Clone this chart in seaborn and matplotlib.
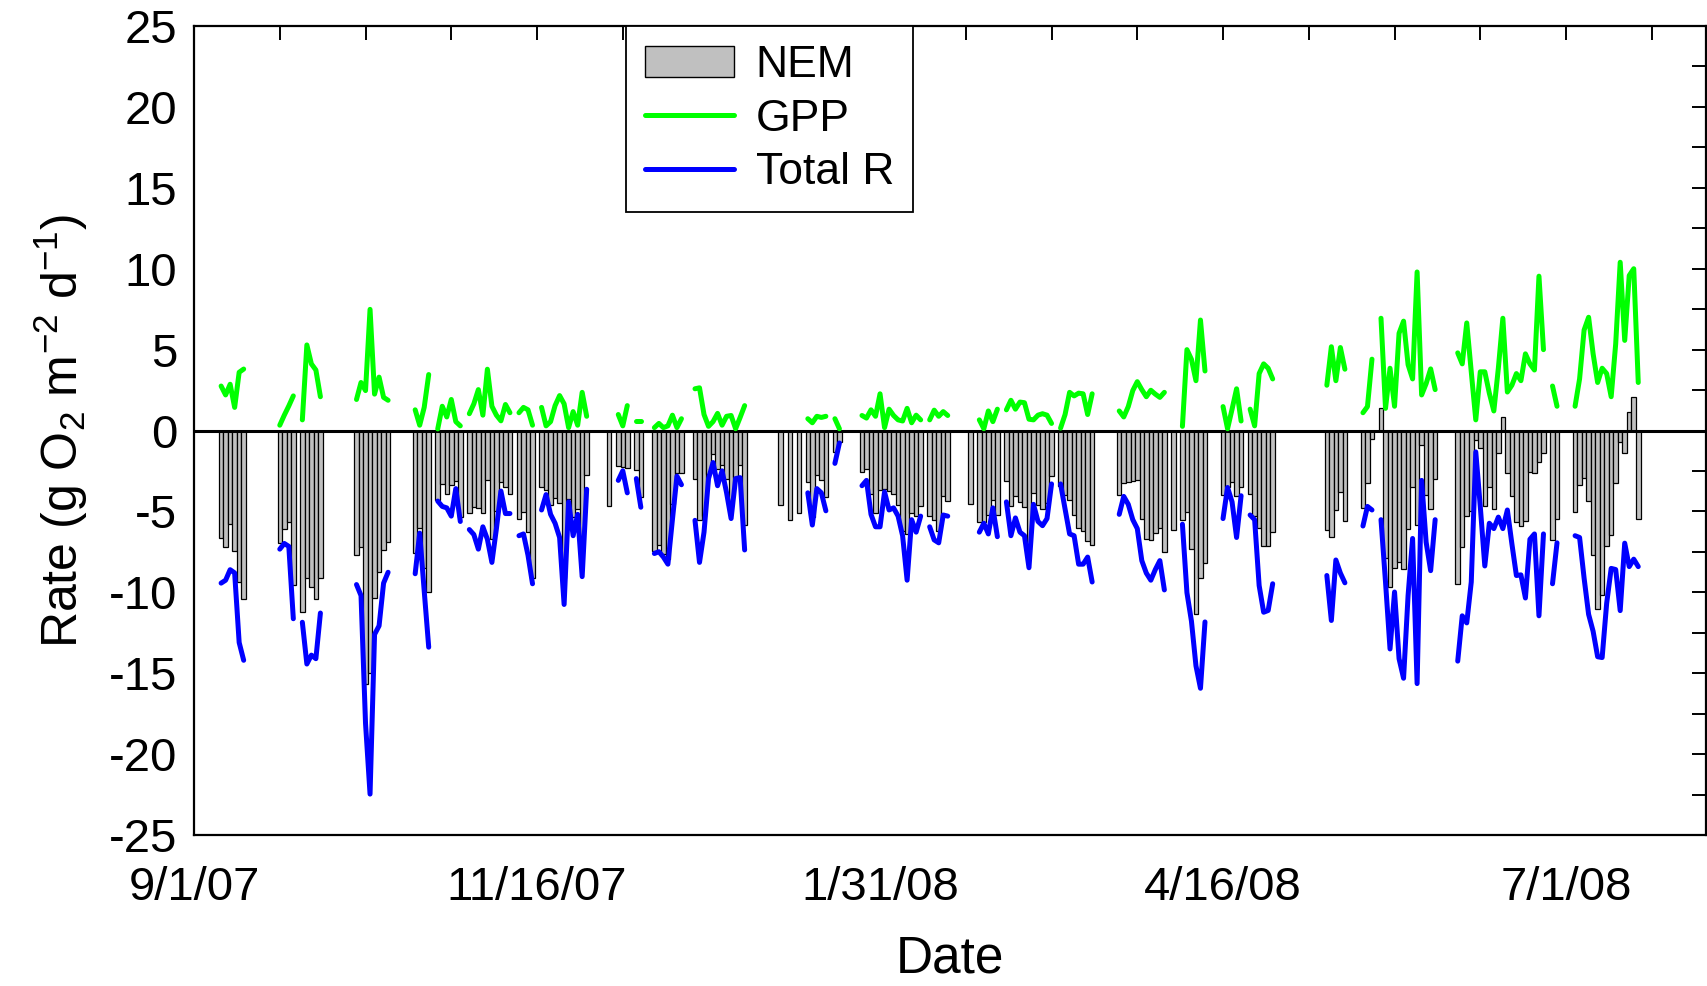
import numpy as np
import pandas as pd
import matplotlib
matplotlib.use("Agg")
import matplotlib.pyplot as plt
import matplotlib.dates as mdates
from matplotlib.patches import Patch
from matplotlib.lines import Line2D
from matplotlib.ticker import FixedLocator, MultipleLocator
import seaborn as sns

nan = np.nan
START = "2007-09-01"

# day offsets from 9/1/07 (only days with data)
DAY = [
    6, 7, 8, 9, 10, 11,
    19, 20, 21, 22, 24, 25, 26, 27, 28,
    36, 37, 38, 39, 40, 41, 42, 43,
    49, 50, 51, 52,
    54, 55, 56, 57, 58, 59,
    61, 62, 63, 64, 65, 66, 67, 68, 69, 70,
    72, 73, 74, 75,
    77, 78, 79, 80, 81, 82, 83, 84, 85, 86, 87,
    92,
    94, 95, 96,
    98, 99,
    102, 103, 104, 105, 106, 107, 108,
    111, 112, 113, 114, 115, 116, 117, 118, 119, 120, 121, 122,
    130, 132, 134,
    136, 137, 138, 139, 140,
    142, 143,
    148, 149, 150, 151, 152, 153, 154, 155, 156, 157, 158, 159, 160, 161,
    163, 164, 165, 166, 167,
    172,
    174, 175, 176, 177, 178,
    180, 181, 182, 183, 184, 185, 186, 187, 188, 189, 190,
    192, 193, 194, 195, 196, 197, 198, 199,
    205, 206, 207, 208, 209, 210, 211, 212, 213, 214, 215,
    217,
    219, 220, 221, 222, 223, 224,
    228, 229, 230, 231, 232,
    234, 235, 236, 237, 238, 239,
    251, 252, 253, 254, 255,
    259, 260, 261,
    263, 264, 265, 266, 267, 268, 269, 270, 271, 272, 273, 274, 275,
    280, 281, 282, 283, 284, 285, 286, 287, 288, 289, 290, 291, 292, 293, 294,
    295, 296, 297, 298, 299, 301, 302,
    306, 307, 308, 309, 310, 311, 312, 313, 314, 315, 316, 317, 318, 319, 320,
]

GPP = [
    2.75, 2.2, 2.86, 1.43, 3.6, 3.8,
    0.33, 0.95, 1.52, 2.14, 0.66, 5.29, 4.12, 3.74, 2.09,
    1.92, 2.97, 2.47, 7.49, 2.25, 3.3, 2.05, 1.87,
    1.28, 0.33, 1.43, 3.46,
    0.1, 1.5, 0.84, 1.92, 0.55, 0.29,
    1.04, 1.65, 2.53, 0.95, 3.79, 1.5, 0.95, 0.6, 1.61, 1.1,
    1.1, 1.43, 1.28, 0.33,
    1.43, 0.29, 0.55, 1.54, 2.16, 1.65, 0.18, 1.17, 0.33, 2.36, 0.88,
    nan,
    0.99, 0.29, 1.54,
    0.6, 0.6,
    0.18, 0.44, 0.18, 0.29, 0.95, 0.18, 0.73,
    2.58, 2.64, 0.99, 0.26, 0.55, 1.06, 0.33, 0.88, 0.93, 0.11, 0.81, 1.54,
    nan, nan, nan,
    0.73, 0.48, 0.88, 0.81, 0.88,
    0.73, 0.11,
    0.93, 0.77, 1.28, 0.88, 2.27, 0.18, 1.32, 0.93, 0.66, 0.59, 1.37, 0.48, 0.95, 0.66,
    0.66, 1.26, 0.88, 1.17, 0.93,
    nan,
    0.66, 0.11, 1.21, 0.55, 1.32,
    1.28, 1.87, 1.32, 1.76, 1.72, 0.7, 0.66, 0.95, 1.04, 0.95, 0.44,
    0.15, 0.99, 2.36, 2.14, 2.31, 2.27, 0.99, 2.27,
    1.21, 0.84, 1.48, 2.47, 3.02, 2.53, 2.09, 2.49, 2.25, 2.05, 2.36,
    nan,
    0.26, 5.0, 4.4, 3.08, 6.83, 3.68,
    1.48, 0.11, 1.32, 2.58, 0.59,
    1.32, 0.29, 3.52, 4.12, 3.85, 3.19,
    2.8, 5.18, 3.08, 5.13, 3.79,
    1.1, 1.48, 4.41,
    6.94, 1.37, 3.85, 1.5, 6.01, 6.76, 4.07, 3.19, 9.8, 2.2, 2.9, 3.81, 2.53,
    4.8, 4.12, 6.65, 3.63, 0.66, 3.63, 3.63, 2.31, 1.21, 3.85, 6.94, 2.38, 2.8, 3.52, 3.08,
    4.74, 4.12, 3.74, 9.54, 5.0, 2.75, 1.5,
    1.5, 3.19, 6.21, 7.0, 4.74, 2.97, 3.85, 3.52, 2.09, 5.35, 10.4, 5.57, 9.58, 10.0, 2.97,
]

TOTAL_R = [
    -9.43, -9.25, -8.6, -8.8, -13.1, -14.2,
    -7.33, -6.98, -7.16, -11.63, -11.85, -14.43, -13.88, -14.1, -11.28,
    -9.52, -10.2, -18.1, -22.47, -12.6, -12.07, -9.43, -8.76,
    -8.85, -6.34, -9.91, -13.39,
    -4.36, -4.69, -4.78, -5.29, -3.59, -5.62,
    -6.12, -6.43, -7.33, -5.95, -6.72, -8.15, -6.06, -3.74, -5.13, -5.13,
    -6.5, -6.39, -7.71, -9.47,
    -4.91, -3.96, -5.18, -5.73, -6.61, -10.75, -4.4, -6.5, -5.18, -9.03, -3.63,
    nan,
    -3.08, -2.49, -3.85,
    -2.97, -4.74,
    -7.6, -7.49, -7.82, -8.26, -5.5, -2.82, -3.35,
    -5.55, -8.15, -6.28, -2.97, -1.98, -3.41, -2.49, -3.85, -5.44, -2.97, -2.91, -7.38,
    nan, nan, nan,
    -3.85, -5.84, -3.59, -3.85, -4.96,
    -2.03, -0.77,
    -3.41, -3.08, -5.18, -5.95, -5.95, -3.79, -4.91, -4.78, -5.29, -6.5, -9.25, -5.51, -6.28, -5.29,
    -5.95, -6.76, -6.94, -5.22, -5.29,
    nan,
    -6.28, -5.73, -6.39, -4.78, -6.56,
    -4.41, -6.5, -5.4, -6.28, -6.5, -8.48, -4.56, -5.62, -5.88, -5.44, -3.3,
    -3.3, -4.85, -6.39, -6.5, -8.26, -8.26, -7.82, -9.36,
    -5.18, -4.07, -4.56, -5.51, -6.06, -8.04, -8.81, -9.25, -8.59, -8.04, -9.85,
    nan,
    -5.79, -10.02, -11.78, -14.54, -15.93, -11.83,
    -5.44, -3.52, -4.41, -6.61, -4.03,
    -5.22, -5.51, -9.58, -11.23, -11.12, -9.47,
    -8.96, -11.74, -8.0, -8.81, -9.41,
    -5.9, -4.69, -4.91,
    -5.51, -9.36, -13.5, -9.98, -14.1, -15.31, -10.2, -6.67, -15.64, -3.08, -6.9, -8.66, -5.51,
    -14.25, -11.45, -11.89, -9.36, -1.32, -4.7, -8.37, -5.73, -6.06, -5.35, -6.06, -4.91, -7.0,
    -8.96, -8.92, -10.35, -6.72, -6.39, -11.45, -6.39, -9.47, -6.94,
    -6.5, -6.61, -9.12, -11.36, -12.41, -13.98, -14.03, -10.68, -8.52, -8.59, -11.13, -6.96,
    -8.41, -7.95, -8.41,
]

NEM = [
    -6.67, -7.18, -5.79, -7.44, -9.36, -10.4,
    -6.98, -6.06, -5.66, -9.54, -11.23, -9.1, -9.69, -10.4, -9.14,
    -7.67, -7.18, -15.64, -14.98, -10.35, -8.77, -7.38, -6.89,
    -7.56, -6.01, -8.48, -9.96,
    -4.3, -3.3, -3.95, -3.37, -3.1, -5.33,
    -5.07, -4.74, -4.8, -5.07, -3.05, -6.7, -5.0, -3.19, -3.52, -3.95,
    -5.46, -5.02, -6.3, -9.1,
    -3.48, -3.67, -4.63, -4.19, -4.45, -9.1, -4.22, -5.33, -4.85, -6.67, -2.75,
    -4.69,
    -2.2, -2.25, -2.31,
    -2.42, -4.12,
    -7.42, -7.05, -7.64, -7.97, -4.55, -2.64, -2.62,
    -2.97, -5.51, -5.29, -2.71, -1.43, -2.35, -2.16, -2.97, -4.51, -2.86, -2.1, -5.84,
    -4.63, -5.51, -5.11,
    -3.2, -5.36, -2.75, -3.04, -4.1,
    -1.33, -0.68,
    -2.55, -2.35, -3.95, -5.08, -3.7, -3.6, -3.75, -3.9, -4.6, -6.2, -6.4, -5.1, -5.3, -4.65,
    -5.31, -5.55, -6.2, -4.06, -4.38,
    -4.56,
    -5.64, -5.64, -5.2, -4.28, -5.23,
    -3.13, -4.65, -4.04, -4.4, -4.72, -7.1, -3.85, -4.6, -4.85, -4.5, -2.84,
    -3.4, -4.0, -4.3, -5.2, -6.0, -6.2, -6.83, -7.1,
    -4.0, -3.26, -3.15, -3.1, -3.06, -5.48, -6.72, -6.76, -6.32, -6.0, -7.49,
    -6.12,
    -5.55, -5.02, -7.3, -11.35, -9.1, -8.17,
    -3.98, -3.5, -3.2, -4.05, -3.46,
    -3.95, -5.3, -6.03, -7.11, -7.15, -6.3,
    -6.17, -6.6, -4.94, -3.8, -5.62,
    -4.79, -3.23, -0.5,
    1.38, -7.9, -9.64, -8.48, -8.1, -8.55, -6.1, -3.5, -5.84, -0.88, -4.0, -4.85, -3.0,
    -9.47, -7.2, -5.29, -5.0, -0.59, -1.06, -4.69, -3.52, -4.85, -1.39, 0.81, -2.64, -4.07,
    -5.66, -5.88, -5.62, -2.58, -2.64, -1.94, -1.37, -6.76, -5.46,
    -5.02, -3.35, -2.91, -4.36, -7.67, -11.01, -10.18, -7.16, -6.43, -3.24, -0.73, -1.39,
    1.17, 2.05, -5.44,
]

MAJOR_TICK_DAYS = [0, 76, 152, 228, 304]
MINOR_STEP_DAYS = 19
X_END_DAYS = 335
Y_TICKS = [-25, -20, -15, -10, -5, 0, 5, 10, 15, 20, 25]

n = len(DAY)
if not (len(GPP) == n and len(TOTAL_R) == n and len(NEM) == n):
    raise SystemExit(f"length mismatch {n} {len(GPP)} {len(TOTAL_R)} {len(NEM)}")

start = pd.Timestamp(START)
df = pd.DataFrame({"day": DAY, "GPP": GPP, "R": TOTAL_R, "NEM": NEM})
df["date"] = start + pd.to_timedelta(df["day"], unit="D")
df["seg"] = (df["day"].diff() != 1).cumsum()

sns.set_theme(style="white")
plt.rcParams["font.family"] = ["Liberation Sans", "DejaVu Sans"]
plt.rcParams["mathtext.fontset"] = "custom"
plt.rcParams["mathtext.rm"] = "Liberation Sans"
plt.rcParams["mathtext.it"] = "Liberation Sans:italic"
plt.rcParams["mathtext.bf"] = "Liberation Sans:bold"
plt.rcParams["axes.unicode_minus"] = False
for k in ["text.color", "axes.labelcolor", "xtick.color", "ytick.color",
          "xtick.labelcolor", "ytick.labelcolor"]:
    plt.rcParams[k] = "black"

fig = plt.figure(figsize=(17.08, 9.86), dpi=100)
ax = fig.add_axes([0.1136, 0.1531, 0.8852, 0.8205])

ax.bar(df["date"], df["NEM"], width=1.0, color="#C0C0C0",
       edgecolor="black", linewidth=0.9, zorder=2)
ax.axhline(0, color="black", lw=2.2, zorder=3)

gdf = df.dropna(subset=["GPP"])
sns.lineplot(data=gdf, x="date", y="GPP", units="seg", estimator=None,
             color="#00FF00", lw=3.6, ax=ax, zorder=4)
sns.lineplot(data=gdf, x="date", y="R", units="seg", estimator=None,
             color="#0000FF", lw=3.6, ax=ax, zorder=4)

x0 = mdates.date2num(start)
ax.set_xlim(x0, x0 + X_END_DAYS)
ax.set_ylim(-25, 25)

major_dates = [start + pd.Timedelta(days=d) for d in MAJOR_TICK_DAYS]
ax.xaxis.set_major_locator(FixedLocator([mdates.date2num(d) for d in major_dates]))
ax.xaxis.set_minor_locator(FixedLocator(
    [x0 + d for d in range(0, X_END_DAYS, MINOR_STEP_DAYS)]))
ax.set_xticklabels([f"{d.month}/{d.day}/{d:%y}" for d in major_dates])
ax.yaxis.set_major_locator(FixedLocator(Y_TICKS))
ax.yaxis.set_minor_locator(MultipleLocator(2.5))

ax.tick_params(which="both", direction="in", top=True, right=True,
               length=10, width=1.4, color="black")
ax.tick_params(axis="y", which="major", labelsize=34, pad=12)
ax.tick_params(axis="x", which="major", labelsize=34, pad=22)
for s in ax.spines.values():
    s.set_linewidth(1.6)
    s.set_color("black")

ax.set_xlabel("Date", fontsize=37, labelpad=18)
ax.set_ylabel(r"Rate (g O$_2$ m$^{-2}$ d$^{-1}$)", fontsize=36, labelpad=14)

handles = [Patch(facecolor="#C0C0C0", edgecolor="black", linewidth=1.0),
           Line2D([], [], color="#00FF00", lw=3.6),
           Line2D([], [], color="#0000FF", lw=3.6)]
leg = ax.legend(handles, ["NEM", "GPP", "Total R"], loc="upper left",
                bbox_to_anchor=(0.2857, 1.0), borderaxespad=0, fontsize=32,
                frameon=True, fancybox=False, framealpha=1, edgecolor="black",
                handlelength=2.0, handletextpad=0.5, labelspacing=0.29,
                borderpad=0.42)
leg.get_frame().set_linewidth(1.3)

fig.savefig("out.png", dpi=100)
